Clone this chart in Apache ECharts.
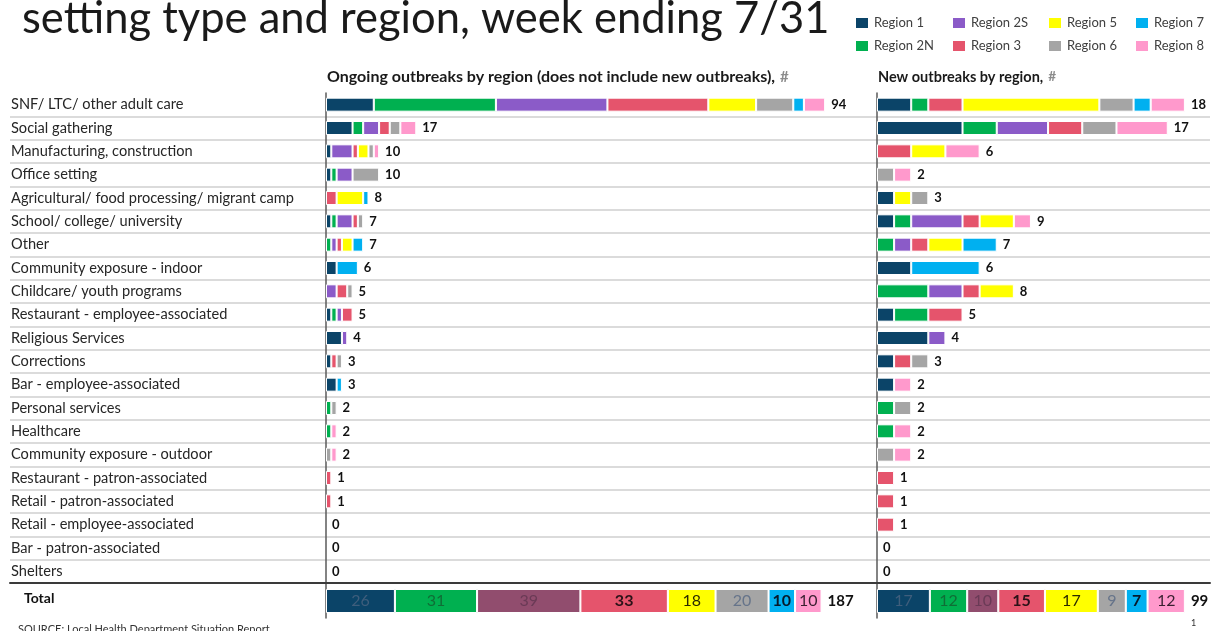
<!DOCTYPE html>
<html>
<head>
<meta charset="utf-8">
<title>Outbreaks by setting type and region</title>
<script src="https://cdn.jsdelivr.net/npm/echarts@6/dist/echarts.min.js"></script>
<style>
  html, body { margin: 0; padding: 0; background: #fff; }
  #chart { width: 1212px; height: 631px; }
</style>
</head>
<body>
<div id="chart"></div>
<script>
// setting types, top to bottom
const settings = [
  'SNF/ LTC/ other adult care', 'Social gathering', 'Manufacturing, construction',
  'Office setting', 'Agricultural/ food processing/ migrant camp', 'School/ college/ university',
  'Other', 'Community exposure - indoor', 'Childcare/ youth programs',
  'Restaurant - employee-associated', 'Religious Services', 'Corrections',
  'Bar - employee-associated', 'Personal services', 'Healthcare',
  'Community exposure - outdoor', 'Restaurant - patron-associated', 'Retail - patron-associated',
  'Retail - employee-associated', 'Bar - patron-associated', 'Shelters'
];
const regions = ['Region 1', 'Region 2N', 'Region 2S', 'Region 3', 'Region 5', 'Region 6', 'Region 7', 'Region 8'];

// ongoing outbreaks (does not include new ones), per region, in settings order
const ongoingR1  = [9, 5, 1, 1, 0, 1, 0, 2, 0, 1, 3, 1, 2, 0, 0, 0, 0, 0, 0, 0, 0];
const ongoingR2N = [23, 2, 0, 1, 0, 1, 1, 0, 0, 1, 0, 0, 0, 1, 1, 0, 0, 0, 0, 0, 0];
const ongoingR2S = [21, 3, 4, 3, 0, 3, 1, 0, 2, 1, 1, 0, 0, 0, 0, 0, 0, 0, 0, 0, 0];
const ongoingR3  = [19, 2, 1, 0, 2, 1, 1, 0, 2, 2, 0, 1, 0, 0, 0, 0, 1, 1, 0, 0, 0];
const ongoingR5  = [9, 0, 2, 0, 5, 0, 2, 0, 0, 0, 0, 0, 0, 0, 0, 0, 0, 0, 0, 0, 0];
const ongoingR6  = [7, 2, 1, 5, 0, 1, 0, 0, 1, 0, 0, 1, 0, 1, 0, 1, 0, 0, 0, 0, 0];
const ongoingR7  = [2, 0, 0, 0, 1, 0, 2, 4, 0, 0, 0, 0, 1, 0, 0, 0, 0, 0, 0, 0, 0];
const ongoingR8  = [4, 3, 1, 0, 0, 0, 0, 0, 0, 0, 0, 0, 0, 0, 1, 1, 0, 0, 0, 0, 0];

// new outbreaks, per region
const newR1  = [2, 5, 0, 0, 1, 1, 0, 2, 0, 1, 3, 1, 1, 0, 0, 0, 0, 0, 0, 0, 0];
const newR2N = [1, 2, 0, 0, 0, 1, 1, 0, 3, 2, 0, 0, 0, 1, 1, 0, 0, 0, 0, 0, 0];
const newR2S = [0, 3, 0, 0, 0, 3, 1, 0, 2, 0, 1, 0, 0, 0, 0, 0, 0, 0, 0, 0, 0];
const newR3  = [2, 2, 2, 0, 0, 1, 1, 0, 1, 2, 0, 1, 0, 0, 0, 0, 1, 1, 1, 0, 0];
const newR5  = [8, 0, 2, 0, 1, 2, 2, 0, 2, 0, 0, 0, 0, 0, 0, 0, 0, 0, 0, 0, 0];
const newR6  = [2, 2, 0, 1, 1, 0, 0, 0, 0, 0, 0, 1, 0, 1, 0, 1, 0, 0, 0, 0, 0];
const newR7  = [1, 0, 0, 0, 0, 0, 2, 4, 0, 0, 0, 0, 0, 0, 0, 0, 0, 0, 0, 0, 0];
const newR8  = [2, 3, 2, 1, 0, 1, 0, 0, 0, 0, 0, 0, 1, 0, 1, 1, 0, 0, 0, 0, 0];

// region totals shown in the "Total" row
const ongoingTotals = [26, 31, 39, 33, 18, 20, 10, 10];
const newTotals     = [17, 12, 10, 15, 17, 9, 7, 12];

const regionColors = ['#0b4468', '#00b050', '#8b5bc8', '#e5546c', '#ffff00', '#a5a5a5', '#00b0f0', '#ff99cc'];
// the total row uses a muted mauve for Region 2S
const totalColors  = ['#0b4468', '#00b050', '#914d6e', '#e5546c', '#ffff00', '#a5a5a5', '#00b0f0', '#ff99cc'];
const totalLabelColors = ['#3f5e7c', '#0f6e36', '#6a3a56', '#2b1218', '#2a2a00', '#66748a', '#06192a', '#3a1f30'];
const totalLabelWeights = ['normal', 'normal', 'normal', 'bold', 'normal', 'normal', 'bold', 'normal'];

const FONT = 'Lato';
const ongoing = [ongoingR1, ongoingR2N, ongoingR2S, ongoingR3, ongoingR5, ongoingR6, ongoingR7, ongoingR8];
const fresh = [newR1, newR2N, newR2S, newR3, newR5, newR6, newR7, newR8];

const sum = arr => arr.reduce((s, v) => s + v, 0);
const rowSums = cols => settings.map((_, i) => sum(cols.map(c => c[i])));

const chart = echarts.init(document.getElementById('chart'));

const hiddenX = (grid, max) => ({ gridIndex: grid, type: 'value', min: 0, max: max, show: false });
const barY = (grid, cats) => ({
  gridIndex: grid, type: 'category', data: cats, inverse: true,
  axisLine: { show: true, lineStyle: { color: '#5a5a5a', width: 1.5 } },
  axisTick: { show: false }, axisLabel: { show: false }, splitLine: { show: false }
});

// one stacked bar block (8 regions + a zero-length series carrying the total label)
function stackBlock(cols, axis, stackName, colors, barWidth, insideLabels) {
  const list = cols.map((vals, r) => ({
    type: 'bar', name: regions[r], xAxisIndex: axis, yAxisIndex: axis,
    stack: stackName, barWidth: barWidth, silent: true,
    data: vals.map(v => (v ? v : '-')),
    itemStyle: { color: colors[r], borderColor: '#ffffff', borderWidth: 1 },
    label: insideLabels ? {
      show: true, position: 'inside', fontFamily: FONT, fontSize: 16,
      color: totalLabelColors[r], fontWeight: totalLabelWeights[r]
    } : { show: false }
  }));
  const totals = rowSums(cols);
  list.push({
    type: 'bar', xAxisIndex: axis, yAxisIndex: axis, stack: stackName,
    barWidth: barWidth, silent: true,
    data: cols[0].map(() => 0),
    itemStyle: { color: 'transparent' },
    label: {
      show: true, position: 'right', distance: 6,
      formatter: p => totals[p.dataIndex],
      fontFamily: FONT, fontWeight: 'bold', fontSize: insideLabels ? 15 : 13, color: '#111'
    }
  });
  return list;
}

const legendBlock = (left, names) => ({
  orient: 'vertical', left: left, top: 16, itemGap: 9, padding: 0,
  itemWidth: 14, itemHeight: 12, icon: 'rect', selectedMode: false,
  data: names, textStyle: { fontFamily: FONT, fontSize: 13, color: '#404040' }
});

const subtitle = (text, left, size) => ({
  text: '{b|' + text + '} {g|#}', left: left, top: 68, padding: 0,
  textStyle: { rich: {
    b: { fontFamily: FONT, fontSize: size, fontWeight: 'bold', color: '#1a1a1a' },
    g: { fontFamily: FONT, fontSize: size - 1, color: '#8c8c8c' } } }
});

const option = {
  animation: false,
  backgroundColor: '#ffffff',
  title: [
    { text: 'setting type and region, week ending 7/31', left: 22, top: -3, padding: 0,
      textStyle: { fontFamily: FONT, fontSize: 43.5, fontWeight: 'normal', color: '#1a1a1a' } },
    subtitle('Ongoing outbreaks by region (does not include new outbreaks),', 327, 16),
    subtitle('New outbreaks by region,', 878, 14.5),
    { text: 'Total', left: 24, top: 591, padding: 0,
      textStyle: { fontFamily: FONT, fontSize: 14, fontWeight: 'bold', color: '#111' } },
    { text: 'SOURCE: Local Health Department Situation Report', left: 18, top: 624, padding: 0,
      textStyle: { fontFamily: FONT, fontSize: 11, fontWeight: 'normal', color: '#333' } },
    { text: '1', left: 1191, top: 619, padding: 0,
      textStyle: { fontFamily: FONT, fontSize: 9, fontWeight: 'normal', color: '#333' } }
  ],
  legend: [
    legendBlock(854, ['Region 1', 'Region 2N']),
    legendBlock(951, ['Region 2S', 'Region 3']),
    legendBlock(1047, ['Region 5', 'Region 6']),
    legendBlock(1134, ['Region 7', 'Region 8'])
  ],
  grid: [
    { left: 10, right: 2, top: 93, height: 490 },   // labels and row rules
    { left: 326, width: 531, top: 93, height: 490 },  // ongoing
    { left: 877, width: 325, top: 93, height: 490 },  // new
    { left: 326, width: 530, top: 584, height: 34 },  // ongoing total
    { left: 877, width: 311, top: 584, height: 34 }   // new total
  ],
  xAxis: [
    { gridIndex: 0, type: 'value', min: 0, max: 1,
      axisLine: { show: true, lineStyle: { color: '#3a3a3a', width: 2 } },
      axisTick: { show: false }, axisLabel: { show: false }, splitLine: { show: false } },
    hiddenX(1, 100),
    hiddenX(2, 19),
    hiddenX(3, 200),
    hiddenX(4, 100)
  ],
  yAxis: [
    { gridIndex: 0, type: 'category', data: settings, inverse: true,
      axisLine: { show: false }, axisTick: { show: false },
      axisLabel: { inside: true, margin: 1, fontFamily: FONT, fontSize: 14.6, color: '#262626' },
      splitLine: { show: true, showMinLine: false, showMaxLine: false,
        lineStyle: { color: '#cfcfcf', width: 1.5 } } },
    barY(1, settings),
    barY(2, settings),
    barY(3, ['Total']),
    barY(4, ['Total'])
  ],
  series: [].concat(
    stackBlock(ongoing, 1, 'ongoing', regionColors, 14, false),
    stackBlock(fresh, 2, 'new', regionColors, 14, false),
    stackBlock(ongoingTotals.map(v => [v]), 3, 'ongoingTotal', totalColors, 24, true),
    stackBlock(newTotals.map(v => [v]), 4, 'newTotal', totalColors, 24, true)
  )
};

chart.setOption(option);
window.addEventListener('resize', () => chart.resize());
</script>
</body>
</html>
